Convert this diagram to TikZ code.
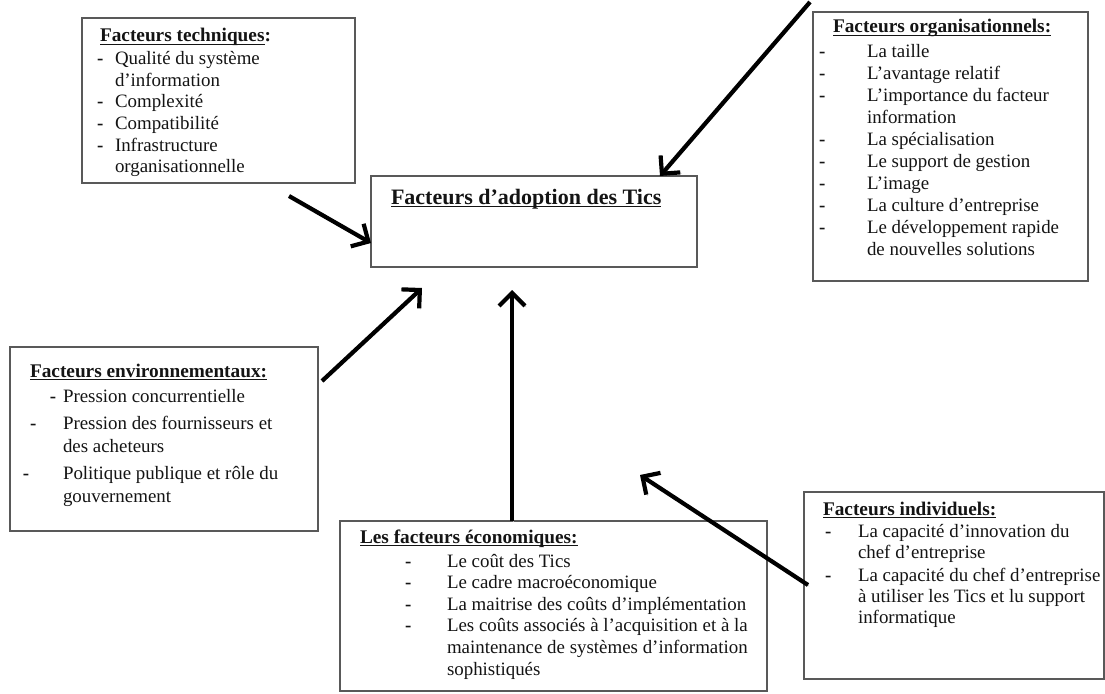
\documentclass[tikz,border=0pt]{standalone}
\usepackage{fontspec}
\setmainfont{Liberation Serif}
\usetikzlibrary{arrows.meta}
\newcommand\myul[1]{\setbox0\hbox{#1}\rlap{\rule[-3pt]{\wd0}{1.2pt}}\box0}
\newcommand\itm[3]{\hbox{\makebox[#1][l]{\hspace{#2}\textbf{-}}#3}}
\newcommand\cnt[2]{\hbox{\hspace{#1}#2}}
\newcommand\hdr[2]{\hbox{\hspace{#1}\fontsize{19.3}{21}\selectfont\bfseries #2}}
\tikzset{
  box/.style={draw=black!65, line width=1.2pt, fill=white, inner sep=0pt, outer sep=0pt, anchor=north west},
  txt/.style={inner sep=0pt, outer sep=0pt, anchor=base west, text=black!92,
              font=\fontsize{18.9}{21.5}\selectfont},
  conn/.style={line width=4.2pt, black,
               preaction={draw=black!30, transform canvas={shift={(1.3pt,-1.3pt)}}},
               -{Straight Barb[length=13pt,width=26pt,line width=4.2pt]}}
}
\begin{document}
\begin{tikzpicture}[x={(1pt,0)}, y={(0,-1pt)}]
\useasboundingbox (0,0) rectangle (1105,693);
% boxes
\node[box, minimum width=326pt, minimum height=91pt] (main) at (371,176) {};
\node[box, minimum width=273pt, minimum height=165pt] (tech) at (82,18) {};
\node[box, minimum width=275pt, minimum height=269pt] (org) at (813,12) {};
\node[box, minimum width=308pt, minimum height=184pt] (env) at (10,347) {};
\node[box, minimum width=427pt, minimum height=170pt] (eco) at (340,521) {};
\node[box, minimum width=300pt, minimum height=187pt] (ind) at (804,492) {};
% title
\node[txt, font=\fontsize{22}{26}\selectfont\bfseries] (title) at (391,204) {\myul{Facteurs d’adoption des Tics}};
% technical
\node[txt] (techtxt) at (97,42) {\vtop{%
  \hdr{3pt}{\myul{Facteurs techniques}:}\vskip1.5pt
  \itm{18pt}{0pt}{Qualité du système}
  \cnt{18pt}{d’information}
  \itm{18pt}{0pt}{Complexité}
  \itm{18pt}{0pt}{Compatibilité}
  \itm{18pt}{0pt}{Infrastructure}
  \cnt{18pt}{organisationnelle}}};
% organisational
\node[txt, font=\fontsize{18.9}{21.9}\selectfont] (orgtxt) at (819,33) {\vtop{%
  \hdr{14pt}{\myul{Facteurs organisationnels:}}\vskip3.1pt
  \itm{48pt}{0pt}{La taille}
  \itm{48pt}{0pt}{L’avantage relatif}
  \itm{48pt}{0pt}{L’importance du facteur}
  \cnt{48pt}{information}
  \itm{48pt}{0pt}{La spécialisation}
  \itm{48pt}{0pt}{Le support de gestion}
  \itm{48pt}{0pt}{L’image}
  \itm{48pt}{0pt}{La culture d’entreprise}
  \itm{48pt}{0pt}{Le développement rapide}
  \cnt{48pt}{de nouvelles solutions}}};
% environmental
\node[txt, font=\fontsize{18.9}{23}\selectfont] (envtxt) at (23,377) {\vtop{%
  \hdr{7pt}{\myul{Facteurs environnementaux:}}\vskip2pt
  \itm{40pt}{27pt}{Pression concurrentielle}\vskip4pt
  \itm{40pt}{7pt}{Pression des fournisseurs et}
  \cnt{40pt}{des acheteurs}\vskip4pt
  \itm{40pt}{0pt}{Politique publique et rôle du}
  \cnt{40pt}{gouvernement}}};
% economic
\node[txt, font=\fontsize{18.9}{21.6}\selectfont] (ecotxt) at (360,543) {\vtop{%
  \hdr{0pt}{\myul{Les facteurs économiques:}}\vskip2.4pt
  \itm{87pt}{45pt}{Le coût des Tics}
  \itm{87pt}{45pt}{Le cadre macroéconomique}
  \itm{87pt}{45pt}{La maitrise des coûts d’implémentation}
  \itm{87pt}{45pt}{Les coûts associés à l’acquisition et à la}
  \cnt{87pt}{maintenance de systèmes d’information}
  \cnt{87pt}{sophistiqués}}};
% individual
\node[txt, font=\fontsize{18.9}{21}\selectfont] (indtxt) at (823,515) {\vtop{%
  \hdr{0pt}{\myul{Facteurs individuels:}}\vskip1pt
  \itm{35pt}{2pt}{La capacité d’innovation du}
  \cnt{35pt}{chef d’entreprise}\vskip2pt
  \itm{35pt}{2pt}{La capacité du chef d’entreprise}
  \cnt{35pt}{à utiliser les Tics et lu support}
  \cnt{35pt}{informatique}}};
% connector ends
\coordinate (a1s) at (289,196);
\coordinate (a1e) at (371,243);
\coordinate (a2s) at (810,2);
\coordinate (a2e) at (660,176);
\coordinate (a3s) at (322,381);
\coordinate (a3e) at (422,288);
\coordinate (a4e) at (512,290);
\coordinate (a5e) at (640,475);
\coordinate (a5s) at (808,585);
\draw[conn] (a1s) -- (a1e);
\draw[conn] (a2s) -- (a2e);
\draw[conn] (a3s) -- (a3e);
\draw[conn] (eco.north -| a4e) -- (a4e);
\draw[conn] (a5s) -- (a5e);
\end{tikzpicture}
\end{document}
